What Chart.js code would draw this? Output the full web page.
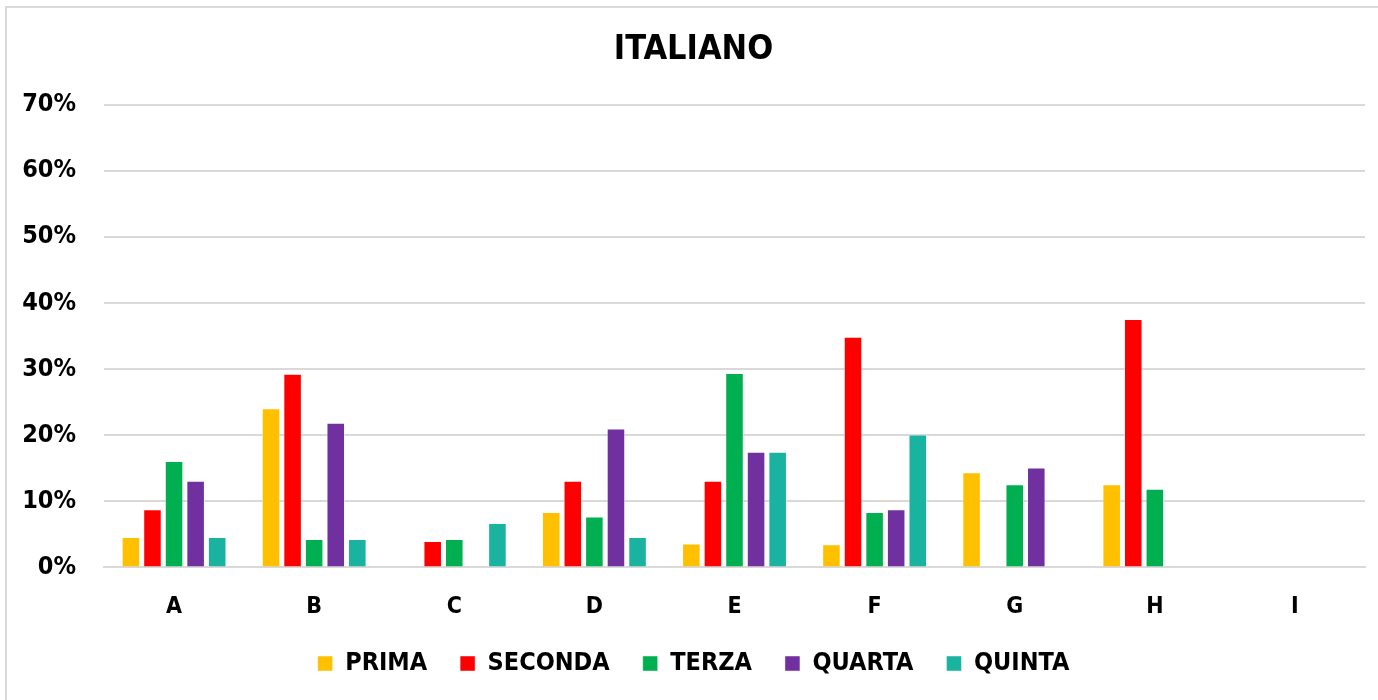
<!DOCTYPE html>
<html>
<head>
<meta charset="utf-8">
<script src="https://cdn.jsdelivr.net/npm/chart.js@4/dist/chart.umd.min.js"></script>
<style>
  html, body { margin: 0; padding: 0; background: #fff; }
  #frame {
    position: absolute; left: 5px; top: 6px; width: 1380px; height: 700px;
    border: 2px solid #d9d9d9; box-sizing: border-box;
  }
  #wrap { position: absolute; left: 0; top: 0; width: 1378px; height: 700px; }
</style>
</head>
<body>
<div id="frame"></div>
<div id="wrap"><canvas id="chart"></canvas></div>
<script>
const categories = ['A', 'B', 'C', 'D', 'E', 'F', 'G', 'H', 'I'];
const prima   = [4.6, 24.1, 0,   8.4, 3.6, 3.5, 14.4, 12.6, 0];
const seconda = [8.8, 29.3, 4.0, 13.1, 13.1, 34.9, 0,  37.6, 0];
const terza   = [16.1, 4.3, 4.3, 7.7, 29.4, 8.4, 12.6, 11.9, 0];
const quarta  = [13.1, 21.9, 0,  21.0, 17.5, 8.8, 15.1, 0,   0];
const quinta  = [4.6, 4.3, 6.7, 4.6, 17.5, 20.1, 0,   0,    0];
const yTicks = [0, 10, 20, 30, 40, 50, 60, 70];

const FONT = '"DejaVu Sans Condensed", "DejaVu Sans", sans-serif';
Chart.defaults.font.family = FONT;
Chart.defaults.color = '#000';

function series(label, data, color) {
  return {
    label,
    data,
    backgroundColor: color,
    borderColor: 'rgba(255,255,255,0.45)',
    borderWidth: 1,
    categoryPercentage: 0.77,
    barPercentage: 0.86,
  };
}

new Chart(document.getElementById('chart'), {
  type: 'bar',
  data: {
    labels: categories,
    datasets: [
      series('PRIMA', prima, '#ffc000'),
      series('SECONDA', seconda, '#ff0000'),
      series('TERZA', terza, '#00b050'),
      series('QUARTA', quarta, '#7030a0'),
      series('QUINTA', quinta, '#1ab39f'),
    ],
  },
  options: {
    responsive: true,
    maintainAspectRatio: false,
    animation: false,
    layout: { padding: { left: 22, right: 13, top: 18, bottom: 14 } },
    plugins: {
      title: {
        display: true,
        text: 'ITALIANO',
        font: { size: 34, weight: 'bold' },
        color: '#000',
        padding: { top: 12, bottom: 34 },
      },
      legend: {
        position: 'bottom',
        labels: {
          boxWidth: 15,
          boxHeight: 15,
          padding: 33,
          font: { size: 25, weight: 'bold' },
          color: '#000',
        },
      },
      tooltip: { enabled: false },
    },
    scales: {
      x: {
        grid: { display: false, drawTicks: false },
        border: { color: '#d9d9d9', width: 2 },
        ticks: { font: { size: 23, weight: 'bold' }, padding: 26, color: '#000' },
        afterFit: axis => { axis.height -= 29; },
      },
      y: {
        min: 0,
        max: 70,
        afterBuildTicks: axis => { axis.ticks = yTicks.map(v => ({ value: v })); },
        afterFit: axis => { axis.width = 82; },
        grid: { color: '#d9d9d9', lineWidth: 2, drawTicks: false },
        border: { display: false },
        ticks: {
          font: { size: 25, weight: 'bold' },
          padding: 28,
          color: '#000',
          callback: v => `${v}%`,
        },
      },
    },
  },
});
</script>
</body>
</html>
